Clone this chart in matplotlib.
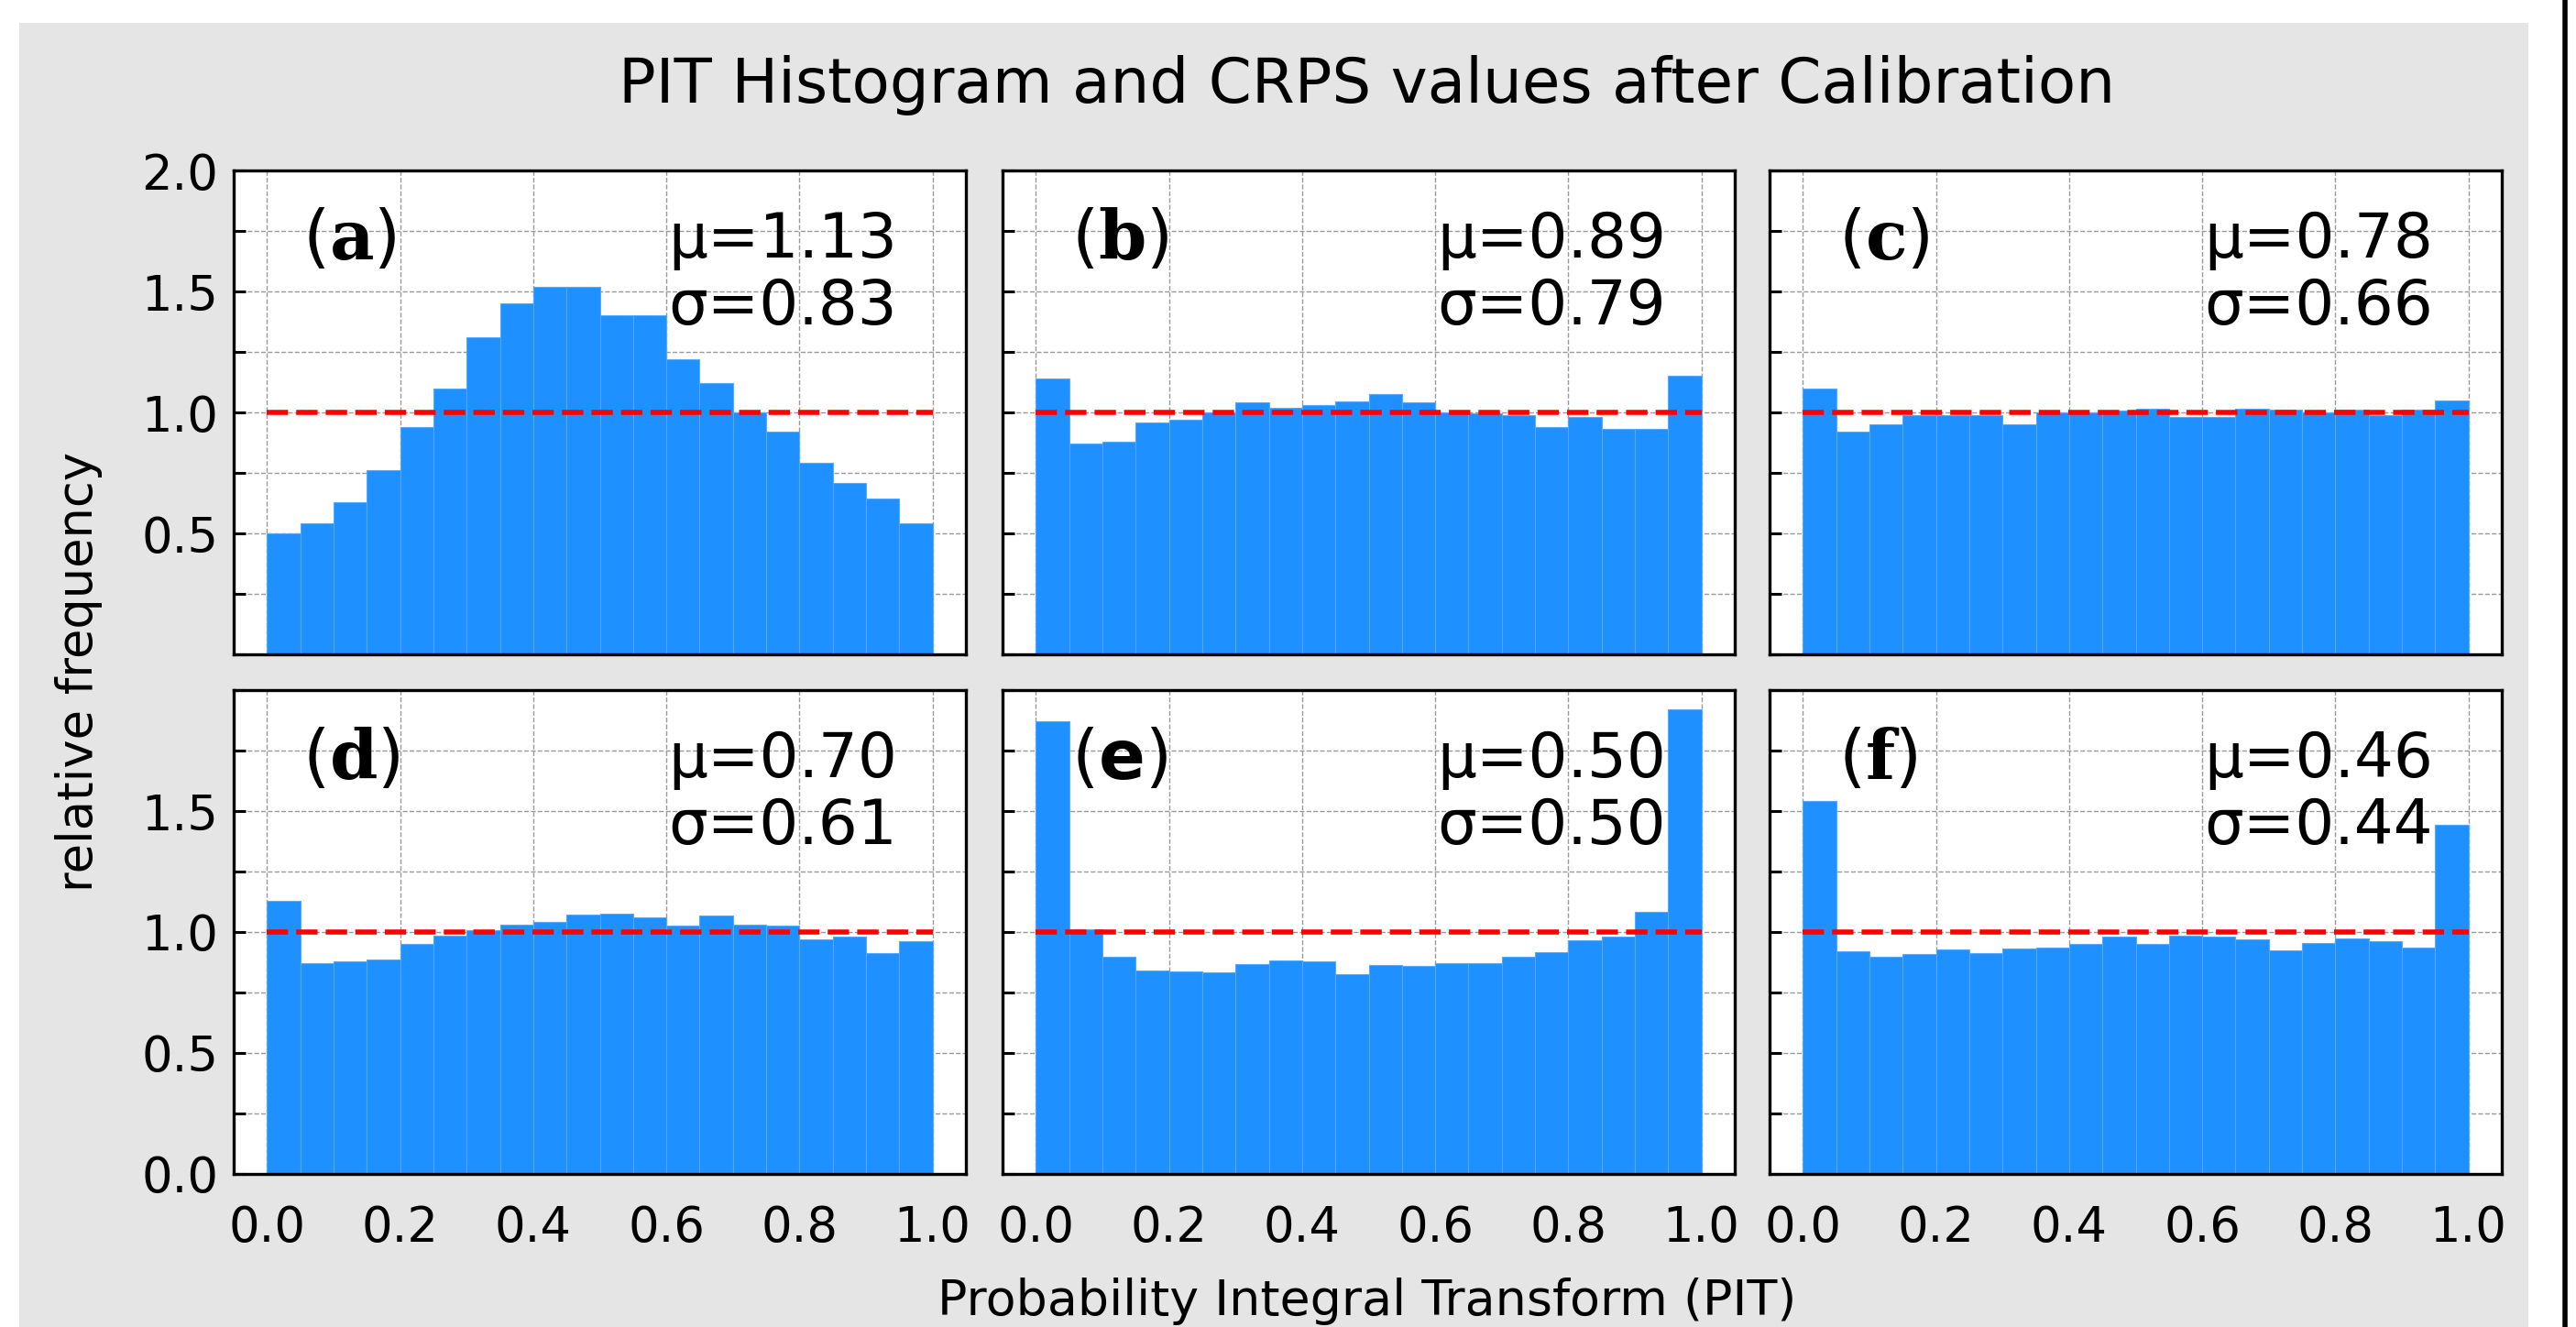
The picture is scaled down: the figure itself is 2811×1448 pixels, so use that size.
import numpy as np
import matplotlib
matplotlib.use("Agg")
import matplotlib.pyplot as plt
from matplotlib.patches import Rectangle
from matplotlib.lines import Line2D

plt.rcParams["font.family"] = ["DejaVu Sans"]
plt.rcParams["mathtext.fontset"] = "custom"
plt.rcParams["mathtext.tt"] = "DejaVu Serif:bold"
plt.rcParams["mathtext.bf"] = "DejaVu Sans:bold"

# 20 PIT bins on [0, 1]
bin_edges = np.linspace(0, 1, 21)

freq_a = [0.50, 0.54, 0.63, 0.76, 0.94, 1.10, 1.31, 1.45, 1.52, 1.52,
          1.40, 1.40, 1.22, 1.12, 1.00, 0.92, 0.79, 0.71, 0.645, 0.54]
freq_b = [1.14, 0.87, 0.88, 0.96, 0.97, 1.00, 1.04, 1.02, 1.03, 1.045,
          1.075, 1.04, 1.00, 0.998, 0.99, 0.94, 0.98, 0.93, 0.93, 1.15]
freq_c = [1.10, 0.92, 0.95, 0.99, 0.99, 0.99, 0.95, 1.00, 1.00, 1.007,
          1.014, 0.98, 0.98, 1.017, 1.01, 1.00, 1.013, 0.99, 1.01, 1.048]
freq_d = [1.13, 0.87, 0.88, 0.886, 0.95, 0.985, 1.007, 1.03, 1.04, 1.073,
          1.076, 1.062, 1.028, 1.07, 1.032, 1.027, 0.971, 0.98, 0.912, 0.962]
freq_e = [1.87, 1.013, 0.896, 0.84, 0.836, 0.834, 0.868, 0.884, 0.879, 0.825,
          0.863, 0.86, 0.87, 0.87, 0.896, 0.916, 0.965, 0.982, 1.083, 1.92]
freq_f = [1.54, 0.919, 0.898, 0.91, 0.927, 0.912, 0.931, 0.934, 0.95, 0.98,
          0.95, 0.983, 0.98, 0.969, 0.926, 0.954, 0.972, 0.964, 0.934, 1.442]

panel_labels = ["a", "b", "c", "d", "e", "f"]
crps_mean = [1.13, 0.89, 0.78, 0.70, 0.50, 0.46]
crps_std = [0.83, 0.79, 0.66, 0.61, 0.50, 0.44]
all_freqs = [freq_a, freq_b, freq_c, freq_d, freq_e, freq_f]

W, H = 2811, 1448
fig = plt.figure(figsize=(W / 200, H / 200), dpi=200, facecolor="white")

# grey backdrop of the figure panel
fig.patches.append(Rectangle((21 / W, 0), (2759 - 21) / W, (H - 25) / H,
                             transform=fig.transFigure, facecolor="#e5e5e5",
                             edgecolor="none", zorder=-10))
fig.lines.append(Line2D([2799 / W, 2799 / W], [0, 1], transform=fig.transFigure,
                        color="black", lw=2.0))

lefts = [255, 1094, 1931]
tops = [186, 753]
aw, ah = 799, 528

yt = np.arange(0, 2.01, 0.25)
top_lbls = ["", "", "0.5", "", "1.0", "", "1.5", "", "2.0"]
bot_lbls = ["0.0", "", "0.5", "", "1.0", "", "1.5", "", ""]

for i, freq in enumerate(all_freqs):
    r, c = divmod(i, 3)
    ax = fig.add_axes([lefts[c] / W, 1 - (tops[r] + ah) / H, aw / W, ah / H])
    ax.set_axisbelow(True)
    ax.bar(bin_edges[:-1], freq, width=np.diff(bin_edges), align="edge",
           color="#1e90ff", edgecolor="#55a9ff", linewidth=0.4, zorder=2)
    ax.plot([0, 1], [1, 1], color="red", lw=2.0, dashes=(4.2, 1.6), zorder=3)
    ax.set_xlim(-0.05, 1.05)
    ax.set_ylim(0, 2.0)
    ax.set_xticks(np.arange(0, 1.01, 0.2))
    ax.set_yticks(yt)
    if c == 0:
        ax.set_yticklabels(top_lbls if r == 0 else bot_lbls)
    else:
        ax.set_yticklabels([])
    if r == 1:
        ax.set_xticklabels(["0.0", "0.2", "0.4", "0.6", "0.8", "1.0"])
    else:
        ax.set_xticklabels([])
    ax.tick_params(axis="y", direction="in", length=4.5, width=1.1,
                   labelsize=19, pad=6)
    ax.tick_params(axis="x", direction="in", length=0, labelsize=19, pad=12)
    ax.grid(True, color="#999999", linestyle="--", linewidth=0.5)
    for sp in ax.spines.values():
        sp.set_linewidth(1.2)
    lab = panel_labels[i]
    if lab == "e":
        ltxt = r"$(\mathbf{e})$"
    else:
        ltxt = r"$(\mathtt{%s})$" % lab
    ax.text(0.094, 0.925, ltxt, transform=ax.transAxes, fontsize=27,
            ha="left", va="top")
    ax.text(0.594, 0.918, "μ=%.2f\nσ=%.2f" % (crps_mean[i], crps_std[i]),
            transform=ax.transAxes, fontsize=24.3, ha="left", va="top",
            linespacing=1.13)

fig.text(1492 / W, 1 - 93 / H, "PIT Histogram and CRPS values after Calibration",
         fontsize=24.3, ha="center", va="center")
fig.text(1492 / W, 1 - 1420 / H, "Probability Integral Transform (PIT)",
         fontsize=19.4, ha="center", va="center")
fig.text(86 / W, 1 - 733 / H, "relative frequency", fontsize=19,
         rotation=90, ha="center", va="center")

fig.savefig("out.png", dpi=200, facecolor="white")
